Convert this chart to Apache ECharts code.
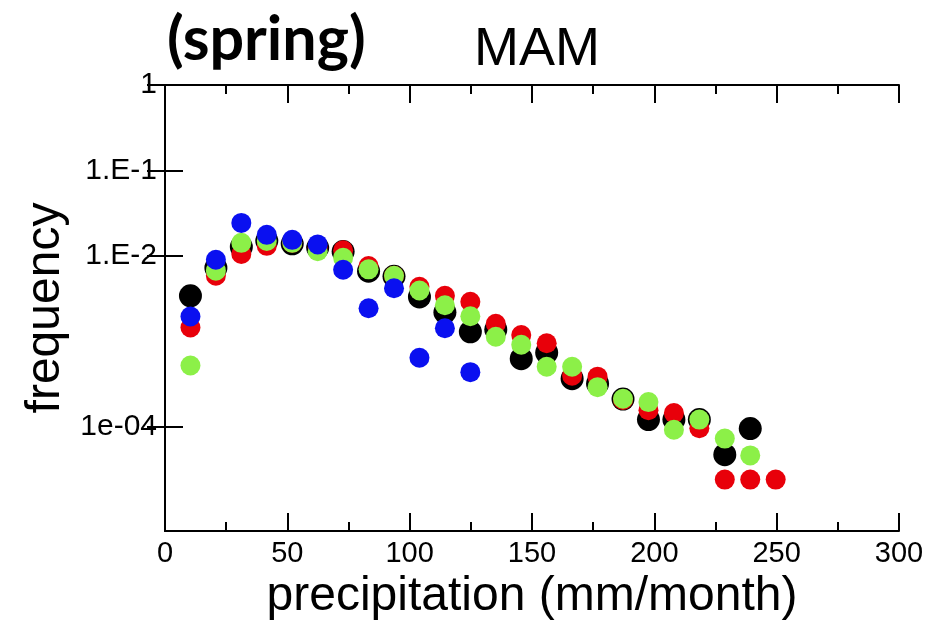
<!DOCTYPE html>
<html><head><meta charset="utf-8">
<script src="https://cdn.jsdelivr.net/npm/echarts@6/dist/echarts.min.js"></script>
<style>html,body{margin:0;padding:0;background:#fff}#c{width:946px;height:623px}</style>
</head><body><div id="c"></div>
<script>
// precipitation bin centres (mm/month)
const precip = [10.4, 20.8, 31.2, 41.6, 52, 62.4, 72.8, 83.2, 93.6, 104, 114.4, 124.8,
  135.2, 145.6, 156, 166.4, 176.8, 187.2, 197.6, 208, 218.4, 228.8, 239.2, 249.6];
// frequency per dataset
const freqBlack = [3.4e-3, 7.2e-3, 1.27e-2, 1.5e-2, 1.38e-2, 1.24e-2, 1.12e-2, 6.6e-3, 5.76e-3, 3.3e-3, 2.18e-3, 1.29e-3,
  1.37e-3, 6.24e-4, 7.33e-4, 3.64e-4, 3.18e-4, 2.1e-4, 1.21e-4, 1.21e-4, 1.21e-4, 4.7e-5, 9.5e-5, null];
const freqRed = [1.45e-3, 5.85e-3, 1.05e-2, 1.31e-2, 1.42e-2, 1.24e-2, 1.16e-2, 7.6e-3, 5.84e-3, 4.34e-3, 3.4e-3, 2.9e-3,
  1.6e-3, 1.18e-3, 9.48e-4, 3.95e-4, 3.85e-4, 2.05e-4, 1.56e-4, 1.44e-4, 9.6e-5, 2.4e-5, 2.4e-5, 2.4e-5];
const freqGreen = [5.2e-4, 6.7e-3, 1.42e-2, 1.49e-2, 1.42e-2, 1.13e-2, 9.5e-3, 6.95e-3, 5.84e-3, 3.93e-3, 2.64e-3, 1.96e-3,
  1.13e-3, 9.1e-4, 5.03e-4, 5.03e-4, 2.9e-4, 2.12e-4, 1.94e-4, 9.2e-5, 1.21e-4, 7.24e-5, 4.6e-5, null];
const freqBlue = [1.95e-3, 9.0e-3, 2.43e-2, 1.76e-2, 1.54e-2, 1.36e-2, 6.86e-3, 2.43e-3, 4.17e-3, 6.4e-4, 1.42e-3, 4.34e-4,
  null, null, null, null, null, null, null, null, null, null, null, null];
// y tick values and their labels
const yTickValues = [1e-4, 1e-2, 1e-1, 1];
const yTickLabels = ['1e-04', '1.E-2', '1.E-1', '1'];
const xTickLabels = ['0', '50', '100', '150', '200', '250', '300'];

const FONT = '"Liberation Sans", Arial, sans-serif';
const pairs = arr => precip.map((x, i) => arr[i] == null ? null : [x, arr[i]]).filter(p => p);

function yLabel(v) {
  const lv = Math.log10(v);
  for (let i = 0; i < yTickValues.length; i++) {
    if (Math.abs(Math.log10(yTickValues[i]) - lv) < 0.05) return yTickLabels[i];
  }
  return '';
}

const axisLine = { show: true, lineStyle: { color: '#000', width: 2 } };
const tick = { show: true, inside: true, length: 18, lineStyle: { color: '#000', width: 2 } };

const xBase = {
  type: 'value', min: 0, max: 300, interval: 50,
  axisLine, axisTick: tick,
  minorTick: { show: true, splitNumber: 2, length: 9, lineStyle: { color: '#000', width: 2 } },
  splitLine: { show: false }, minorSplitLine: { show: false }
};
const yBase = {
  type: 'log', logBase: 10, min: 6e-6, max: 1,
  axisLine, axisTick: Object.assign({ customValues: yTickValues }, tick),
  splitLine: { show: false }, minorTick: { show: false }
};

const chart = echarts.init(document.getElementById('c'), null, { renderer: 'canvas' });
chart.setOption({
  animation: false,
  backgroundColor: '#fff',
  title: [
    { text: 'MAM', left: 532, top: 18, textAlign: 'center',
      textStyle: { fontFamily: FONT, fontSize: 54, fontWeight: 'normal', color: '#000' } },
    { text: '(spring)', left: 162, top: 5,
      textStyle: { fontFamily: 'Lato, "Open Sans", sans-serif', fontSize: 61, fontWeight: 'bold', color: '#000' } }
  ],
  grid: { left: 165, right: 47, top: 85, bottom: 92, outerBoundsMode: 'none', containLabel: false },
  xAxis: [
    Object.assign({}, xBase, {
      position: 'bottom',
      axisLabel: { fontFamily: FONT, fontSize: 29, color: '#000', margin: 8,
        formatter: v => xTickLabels[Math.round(v / 50)] },
      name: 'precipitation (mm/month)', nameLocation: 'middle', nameGap: 39,
      nameTextStyle: { fontFamily: FONT, fontSize: 48, color: '#000' }
    }),
    Object.assign({}, xBase, { position: 'top', axisLabel: { show: false } })
  ],
  yAxis: [
    Object.assign({}, yBase, {
      position: 'left',
      axisLabel: { customValues: yTickValues, fontFamily: FONT, fontSize: 30, color: '#000', margin: 8, formatter: yLabel },
      name: 'frequency', nameLocation: 'middle', nameGap: 92, nameRotate: 90,
      nameTextStyle: { fontFamily: FONT, fontSize: 48, color: '#000' }
    }),
    Object.assign({}, yBase, { position: 'right', axisLabel: { show: false } })
  ],
  series: [
    { name: 'black', type: 'scatter', data: pairs(freqBlack), symbolSize: 23, itemStyle: { color: '#000000', opacity: 1 } },
    { name: 'red', type: 'scatter', data: pairs(freqRed), symbolSize: 20, itemStyle: { color: '#e8000a', opacity: 1 } },
    { name: 'green', type: 'scatter', data: pairs(freqGreen), symbolSize: 20, itemStyle: { color: '#8cf048', opacity: 1 } },
    { name: 'blue', type: 'scatter', data: pairs(freqBlue), symbolSize: 20, itemStyle: { color: '#0a10f0', opacity: 1 } }
  ]
});
</script></body></html>
